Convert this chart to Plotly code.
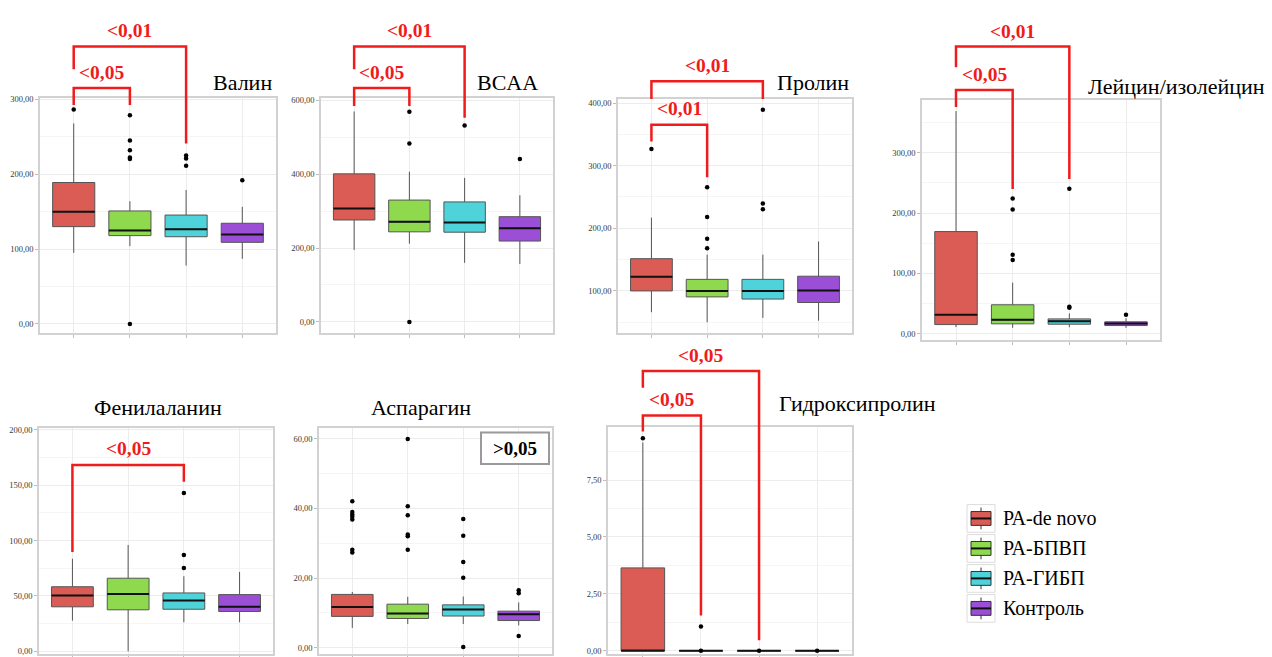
import plotly.graph_objects as go

W, H = 1272, 657

groups = ["РА-de novo", "РА-БПВП", "РА-ГИБП", "Контроль"]
colors = ["#da5c54", "#8fd94f", "#4fd3da", "#9a4fd6"]

# Box statistics per group: [lower whisker, Q1, median, Q3, upper whisker]
valin_box = [[95, 130, 150, 189, 268], [104, 118, 125, 151, 164],
             [78, 116.5, 126.5, 145.5, 179], [87, 109, 119.5, 134.5, 156.5]]
valin_out = [[286.5], [279, 245, 232, 222.5, 220.5, 0], [225, 221, 211.5], [192]]

bcaa_box = [[195, 276, 307, 401, 570], [212, 244, 271, 330, 407],
            [160, 243, 269, 325, 390], [157, 219, 254, 285, 343]]
bcaa_out = [[], [569, 483, 0], [532], [441]]

prolin_box = [[66, 100, 122.5, 151.5, 217], [50, 90.5, 100, 118.5, 158],
              [57, 87, 100, 118.5, 158], [52.5, 81.5, 100.5, 123.5, 179]]
prolin_out = [[326.5], [265.5, 218, 183.5, 168], [389.5, 239.5, 230.5], []]

leucin_box = [[11, 15.2, 31.6, 169.3, 369], [9.8, 16.4, 23, 48, 84.6],
              [10.8, 15.8, 20.7, 24.6, 33.8], [9.8, 13.6, 16.9, 19.7, 25.6]]
leucin_out = [[], [224, 206, 131, 122], [240.3, 44.8, 43], [31.6]]

phenyl_box = [[27.7, 40.2, 50.5, 58.3, 83.6], [0, 37.5, 51.8, 66, 96],
              [26.2, 38, 45.8, 52.7, 67.8], [26.2, 36, 40.2, 51.2, 71.7]]
phenyl_out = [[], [], [143, 86.9, 75.3], []]

asparagin_box = [[5.7, 9, 11.7, 15.3, 16], [6.8, 8.4, 9.8, 12.5, 14.6],
                 [6.8, 9.1, 11, 12.3, 14.7], [6.4, 7.8, 9.6, 10.5, 13]]
asparagin_out = [[42, 38.9, 38.2, 37.6, 36.8, 28.1, 27.3],
                 [59.9, 40.6, 38, 32.5, 32, 28.1],
                 [36.9, 32.1, 24.6, 20.1, 0.2],
                 [16.5, 15.6, 3.4]]

hydroxy_box = [[0, 0, 0, 3.64, 9.15], [0, 0, 0, 0, 0], [0, 0, 0, 0, 0], [0, 0, 0, 0, 0]]
hydroxy_out = [[9.33], [1.06, 0], [0], [0]]

# Panel frames in pixels: (left, right) and (top, bottom); y ranges in data units
panels = [
    dict(title="Валин", box=valin_box, out=valin_out, px=(40, 276), py=(95, 333),
         yr=(-12.8, 302), ticks=[0, 100, 200, 300], minor=[50, 150, 250], txy=(242, 79)),
    dict(title="BCAA", box=bcaa_box, out=bcaa_out, px=(321, 553), py=(95, 333),
         yr=(-31.3, 606.5), ticks=[0, 200, 400, 600], minor=[100, 300, 500], txy=(507, 79)),
    dict(title="Пролин", box=prolin_box, out=prolin_out, px=(618, 852), py=(96, 333),
         yr=(32.1, 406.5), ticks=[100, 200, 300, 400], minor=[50, 150, 250, 350], txy=(813, 79)),
    dict(title="Лейцин/изолейцин", box=leucin_box, out=leucin_out, px=(922, 1160), py=(97, 340),
         yr=(-11, 387.4), ticks=[0, 100, 200, 300], minor=[50, 150, 250, 350], txy=(1176, 83)),
    dict(title="Фенилаланин", box=phenyl_box, out=phenyl_out, px=(39, 273), py=(429, 657),
         yr=(-2.4, 201.2), ticks=[0, 50, 100, 150, 200], minor=[25, 75, 125, 175], txy=(158, 408)),
    dict(title="Аспарагин", box=asparagin_box, out=asparagin_out, px=(319, 552), py=(429, 657),
         yr=(-1.79, 62.9), ticks=[0, 20, 40, 60], minor=[10, 30, 50], txy=(421, 408)),
    dict(title="Гидроксипролин", box=hydroxy_box, out=hydroxy_out, px=(608, 852), py=(428, 657),
         yr=(-0.143, 9.81), ticks=[0, 2.5, 5, 7.5], minor=[1.25, 3.75, 6.25, 8.75], txy=(857, 404)),
]

XR = (-0.6, 3.6)
BOX_W = 0.75
SERIF = "Liberation Serif"
RED = "#f01c1c"

fig = go.Figure()
layout = dict(width=W, height=H, margin=dict(l=0, r=0, t=0, b=0),
              paper_bgcolor="white", plot_bgcolor="white", showlegend=False)
shapes, annotations = [], []


def fmt(v):
    return f"{v:.2f}".replace(".", ",")


def paper_x(p, cat):
    d0, d1 = p["px"][0] / W, p["px"][1] / W
    return d0 + (cat - XR[0]) / (XR[1] - XR[0]) * (d1 - d0)


def paper_y(py):
    return 1 - py / H


for k, p in enumerate(panels):
    n = "" if k == 0 else str(k + 1)
    xa, ya = "x" + n, "y" + n
    layout["xaxis" + n] = dict(
        domain=[p["px"][0] / W, p["px"][1] / W], range=list(XR), anchor=ya,
        tickvals=[0, 1, 2, 3], ticktext=["", "", "", ""], ticks="outside", ticklen=3,
        tickcolor="#bdbdbd", showgrid=True, gridcolor="#ececec", zeroline=False,
        showline=True, mirror=True, linecolor="#d2d2d2", linewidth=1.5, fixedrange=True)
    layout["yaxis" + n] = dict(
        domain=[1 - p["py"][1] / H, 1 - p["py"][0] / H], range=list(p["yr"]), anchor=xa,
        tickvals=p["ticks"], ticktext=[fmt(v) for v in p["ticks"]], ticks="outside",
        ticklen=3, tickcolor="#bdbdbd", tickfont=dict(family=SERIF, size=8.5, color="#3a3a3a"),
        showgrid=True, gridcolor="#ececec", zeroline=False, showline=True, mirror=True,
        linecolor="#d2d2d2", linewidth=1.5,
        minor=dict(tickvals=p["minor"], showgrid=True, gridcolor="#f5f5f5", ticks=""))

    for g, (stats, pts) in enumerate(zip(p["box"], p["out"])):
        lo, q1, med, q3, hi = stats
        fig.add_trace(go.Box(
            x=[g], q1=[q1], median=[med], q3=[q3], lowerfence=[lo], upperfence=[hi],
            width=BOX_W, whiskerwidth=0, fillcolor=colors[g],
            line=dict(color="#555555", width=1), boxpoints=False,
            xaxis=xa, yaxis=ya, name=groups[g], hoverinfo="skip"))
        # emphasised median
        fig.add_trace(go.Scatter(
            x=[g - BOX_W / 2, g + BOX_W / 2], y=[med, med], mode="lines",
            line=dict(color="#111", width=2), xaxis=xa, yaxis=ya, hoverinfo="skip"))
        if pts:
            fig.add_trace(go.Scatter(
                x=[g] * len(pts), y=pts, mode="markers",
                marker=dict(color="black", size=4.5), xaxis=xa, yaxis=ya,
                cliponaxis=False, hoverinfo="skip"))

    annotations.append(dict(
        text=p["title"], x=p["txy"][0] / W, y=paper_y(p["txy"][1]), xref="paper",
        yref="paper", showarrow=False, xanchor="center", yanchor="middle",
        font=dict(family=SERIF, size=22, color="black")))

# Significance brackets: panel, left group, right group, bar level, left end, right end (px), label, label level
brackets = [
    (0, 0, 2, 43, 66, 141, "<0,01", 27),
    (0, 0, 1, 85, 102, 102, "<0,05", 69),
    (1, 0, 2, 43, 66, 115, "<0,01", 27),
    (1, 0, 1, 85, 103, 103, "<0,05", 69),
    (2, 0, 2, 78, 96, 96, "<0,01", 62),
    (2, 0, 1, 122, 139, 175, "<0,01", 106),
    (3, 0, 2, 43, 64, 177, "<0,01", 28),
    (3, 0, 1, 87, 104, 187, "<0,05", 71),
    (4, 0, 2, 466, 554, 483, "<0,05", 449),
    (6, 0, 2, 371, 388, 643, "<0,05", 355),
    (6, 0, 1, 416, 432, 618, "<0,05", 400),
]
for pi, a, b, top, lend, rend, label, ly in brackets:
    p = panels[pi]
    xa_, xb_ = paper_x(p, a), paper_x(p, b)
    shapes.append(dict(
        type="path", xref="paper", yref="paper",
        path=f"M {xa_} {paper_y(lend)} L {xa_} {paper_y(top)} L {xb_} {paper_y(top)} L {xb_} {paper_y(rend)}",
        line=dict(color=RED, width=2.5)))
    annotations.append(dict(
        text=f"<b>{label}</b>".replace("<0", "&lt;0"), x=(xa_ + xb_) / 2, y=paper_y(ly),
        xref="paper", yref="paper", showarrow=False, xanchor="center", yanchor="middle",
        font=dict(family=SERIF, size=19.5, color=RED)))

# Non-significant marker in the asparagine panel
shapes.append(dict(type="rect", xref="paper", yref="paper",
                   x0=481 / W, x1=549 / W, y0=paper_y(465), y1=paper_y(433),
                   line=dict(color="#9a9a9a", width=2), fillcolor="white"))
annotations.append(dict(text="<b>&gt;0,05</b>", x=515 / W, y=paper_y(449), xref="paper",
                        yref="paper", showarrow=False, xanchor="center", yanchor="middle",
                        font=dict(family=SERIF, size=19, color="black")))

# Legend drawn as box glyphs with labels
for g, (name, col) in enumerate(zip(groups, colors)):
    cy = 520 + g * 30.3
    x0, x1 = 967, 995
    shapes.append(dict(type="rect", xref="paper", yref="paper", x0=x0 / W, x1=x1 / W,
                       y0=paper_y(cy + 14), y1=paper_y(cy - 14),
                       line=dict(color="#dcdcdc", width=1)))
    shapes.append(dict(type="line", xref="paper", yref="paper", x0=981 / W, x1=981 / W,
                       y0=paper_y(cy + 11), y1=paper_y(cy - 11),
                       line=dict(color="#333", width=1)))
    shapes.append(dict(type="rect", xref="paper", yref="paper", x0=971 / W, x1=991 / W,
                       y0=paper_y(cy + 7), y1=paper_y(cy - 7),
                       line=dict(color="#333", width=1), fillcolor=col))
    shapes.append(dict(type="line", xref="paper", yref="paper", x0=971 / W, x1=991 / W,
                       y0=paper_y(cy), y1=paper_y(cy), line=dict(color="#111", width=2)))
    annotations.append(dict(text=name, x=1001 / W, y=paper_y(cy), xref="paper", yref="paper",
                            showarrow=False, xanchor="left", yanchor="middle",
                            font=dict(family=SERIF, size=20, color="black")))

layout["shapes"] = shapes
layout["annotations"] = annotations
fig.update_layout(**layout)
fig.write_html("out.html")
